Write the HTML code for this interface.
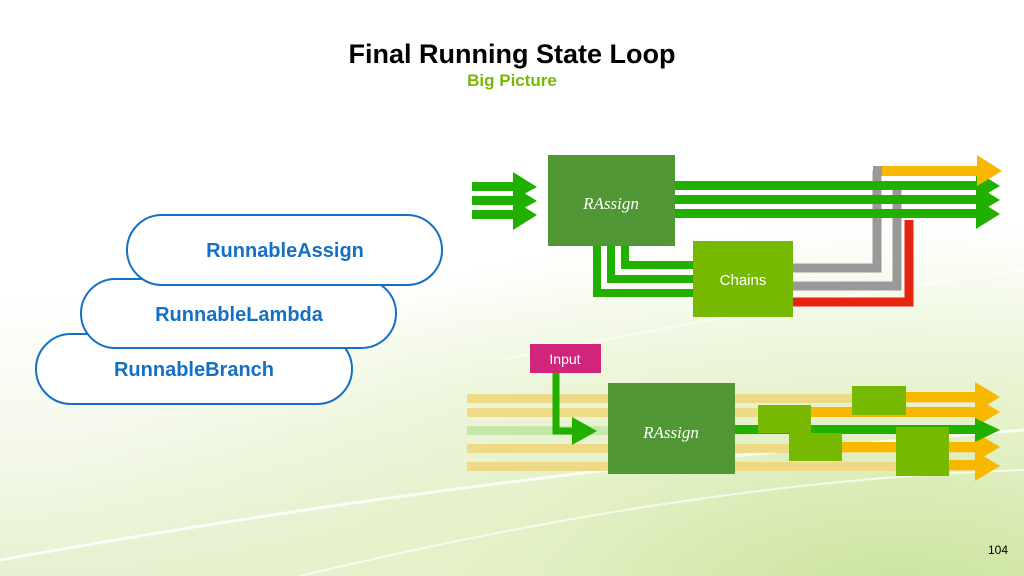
<!DOCTYPE html>
<html><head><meta charset="utf-8"><style>
html,body{margin:0;padding:0}
body{width:1024px;height:576px;overflow:hidden;position:relative;font-family:"Liberation Sans",sans-serif;
background:radial-gradient(ellipse 900px 380px at 900px 600px,#c9e39a 0%,#e4f1c8 45%,rgba(255,255,255,0) 100%),linear-gradient(180deg,#fff 0%,#fff 50%,#f3f8e8 80%,#e6f1d0 100%);}
svg{position:absolute;left:0;top:0}
</style></head><body>
<svg width="1024" height="576" viewBox="0 0 1024 576">
<defs>
<linearGradient id="fg" x1="0" x2="1"><stop offset="0" stop-color="#8fd46a" stop-opacity="0.4"/><stop offset="1" stop-color="#b6e29a" stop-opacity="0.6"/></linearGradient>
</defs>
<path d="M0 560 Q500 470 1024 430" stroke="#fff" stroke-width="3" fill="none" opacity="0.8"/>
<path d="M300 576 Q700 480 1024 470" stroke="#fff" stroke-width="2" fill="none" opacity="0.7"/>
<path d="M500 360 Q800 300 1024 270" stroke="#fff" stroke-width="2" fill="none" opacity="0.6"/>
<text x="512" y="63" text-anchor="middle" font-size="27" font-weight="bold" fill="#000">Final Running State Loop</text>
<text x="512" y="86" text-anchor="middle" font-size="17" font-weight="bold" fill="#76b900">Big Picture</text>
<text x="998" y="554" text-anchor="middle" font-size="12" fill="#000">104</text>

<g stroke="#1470c4" stroke-width="2" fill="#fff">
<rect x="36" y="334" width="316" height="70" rx="35"/>
<rect x="81" y="279" width="315" height="69" rx="34.5"/>
<rect x="127" y="215" width="315" height="70" rx="35"/>
</g>
<g fill="#1470c4" font-weight="bold" font-size="20" text-anchor="middle">
<text x="194" y="376">RunnableBranch</text>
<text x="239" y="321">RunnableLambda</text>
<text x="285" y="257">RunnableAssign</text>
</g>

<g fill="#21b000">
<rect x="472" y="182" width="42" height="9"/><rect x="472" y="196" width="42" height="9"/><rect x="472" y="210" width="42" height="9"/>
<polygon points="513,172 537,187 513,200"/><polygon points="513,186 537,201 513,214"/><polygon points="513,200 537,215 513,230"/>
</g>
<g fill="none" stroke-linejoin="miter">
<polyline points="793,268 877,268 877,171" stroke="#999" stroke-width="9"/>
<polyline points="793,286 897,286 897,190" stroke="#999" stroke-width="9"/>
<polyline points="793,302 909,302 909,220" stroke="#e8230f" stroke-width="9"/>
</g>
<g fill="#21b000">
<rect x="675" y="181" width="302" height="9"/><rect x="675" y="195" width="302" height="9"/><rect x="675" y="209" width="302" height="9"/>
<polygon points="976,171 1000,186 976,200"/><polygon points="976,185 1000,200 976,214"/><polygon points="976,199 1000,214 976,229"/>
</g>
<rect x="873" y="166" width="106" height="10" fill="#f9b800"/>
<polygon points="977,155 1002,171 977,186" fill="#f9b800"/>
<rect x="873" y="166" width="9" height="10" fill="#999"/>
<g fill="none" stroke="#21b000" stroke-width="8">
<polyline points="597,246 597,293 693,293"/>
<polyline points="611,246 611,279 693,279"/>
<polyline points="625,246 625,265 693,265"/>
</g>
<rect x="548" y="155" width="127" height="91" fill="#519736"/>
<text x="611" y="209" text-anchor="middle" font-family="Liberation Serif,serif" font-style="italic" font-size="17" fill="#fff">RAssign</text>
<rect x="693" y="241" width="100" height="76" fill="#76b900"/>
<text x="743" y="285" text-anchor="middle" font-size="15" fill="#fff">Chains</text>

<g fill="#f0d67a" opacity="0.85">
<rect x="467" y="394" width="510" height="9"/><rect x="467" y="408" width="510" height="9"/>
<rect x="467" y="444" width="510" height="9"/><rect x="467" y="462" width="510" height="9"/>
</g>
<rect x="467" y="426" width="141" height="9" fill="url(#fg)"/>
<g fill="#f9b800">
<rect x="906" y="392" width="70" height="10"/><rect x="810" y="407" width="166" height="10"/>
<rect x="842" y="442" width="134" height="10"/><rect x="949" y="460" width="27" height="10"/>
<polygon points="975,382 1000,397 975,412"/><polygon points="975,397 1000,412 975,427"/>
<polygon points="975,432 1000,447 975,462"/><polygon points="975,451 1000,466 975,481"/>
</g>
<rect x="735" y="425" width="242" height="9" fill="#21b000"/>
<polygon points="975,418 1000,430 975,442" fill="#21b000"/>
<rect x="758" y="405" width="53" height="28" fill="#76b900"/>
<rect x="789" y="433" width="53" height="28" fill="#76b900"/>
<rect x="852" y="386" width="54" height="29" fill="#76b900"/>
<rect x="896" y="427" width="53" height="49" fill="#76b900"/>
<rect x="608" y="383" width="127" height="91" fill="#519736"/>
<text x="671" y="438" text-anchor="middle" font-family="Liberation Serif,serif" font-style="italic" font-size="17" fill="#fff">RAssign</text>
<polyline points="556,372 556,431 574,431" fill="none" stroke="#21b000" stroke-width="7"/>
<polygon points="572,417 597,431 572,445" fill="#21b000"/>
<rect x="530" y="344" width="71" height="29" fill="#d0257a"/>
<text x="565" y="364" text-anchor="middle" font-size="14" fill="#fff">Input</text>
</svg>
</body></html>
